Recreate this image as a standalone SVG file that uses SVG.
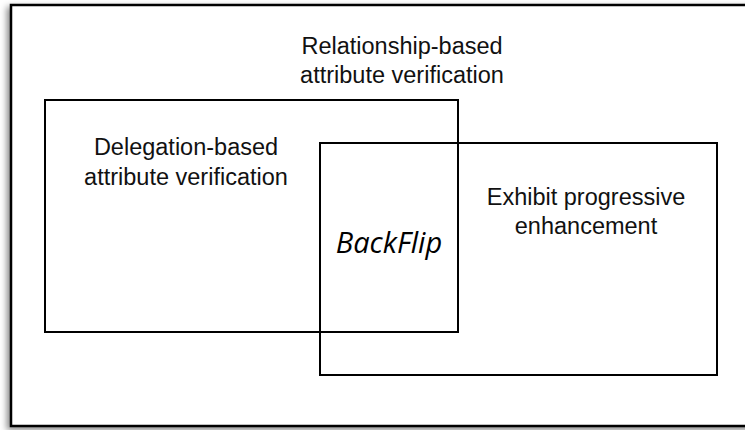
<svg xmlns="http://www.w3.org/2000/svg" width="745" height="430" viewBox="0 0 745 430">
  <defs>
    <filter id="frameShadow" x="-5%" y="-5%" width="110%" height="110%">
      <feDropShadow dx="-3" dy="3" stdDeviation="3" flood-color="#000" flood-opacity="0.45"/>
    </filter>
    <style>
      .box { fill: none; stroke: #000; stroke-width: 2; }
      .label { font-family: "Liberation Sans", Arial, sans-serif; font-size: 23.5px; fill: #111; text-anchor: middle; }
      .brand { font-family: "Open Sans", "DejaVu Sans", sans-serif; font-style: italic; font-size: 29px; fill: #000; text-anchor: middle; }
    </style>
  </defs>

  <rect x="0" y="0" width="745" height="430" fill="#fff"/>

  <!-- outer frame: relationship-based verification -->
  <g id="relationship">
    <rect x="11" y="5" width="745" height="421" fill="#fff" stroke="#000" stroke-width="2.5" filter="url(#frameShadow)"/>
    <text class="label" x="402" y="54">Relationship-based</text>
    <text class="label" x="402" y="83">attribute verification</text>
  </g>

  <!-- delegation-based verification -->
  <g id="delegation">
    <rect class="box" x="45" y="100" width="413" height="232"/>
    <text class="label" x="186" y="155">Delegation-based</text>
    <text class="label" x="186" y="185">attribute verification</text>
  </g>

  <!-- progressive enhancement -->
  <g id="progressive">
    <rect class="box" x="320" y="143" width="397" height="232"/>
    <text class="label" x="586" y="205">Exhibit progressive</text>
    <text class="label" x="586" y="234">enhancement</text>
  </g>

  <!-- intersection label -->
  <g id="backflip">
    <text class="brand" x="389" y="253">BackFlip</text>
  </g>

  <g id="connectors"/>
</svg>
